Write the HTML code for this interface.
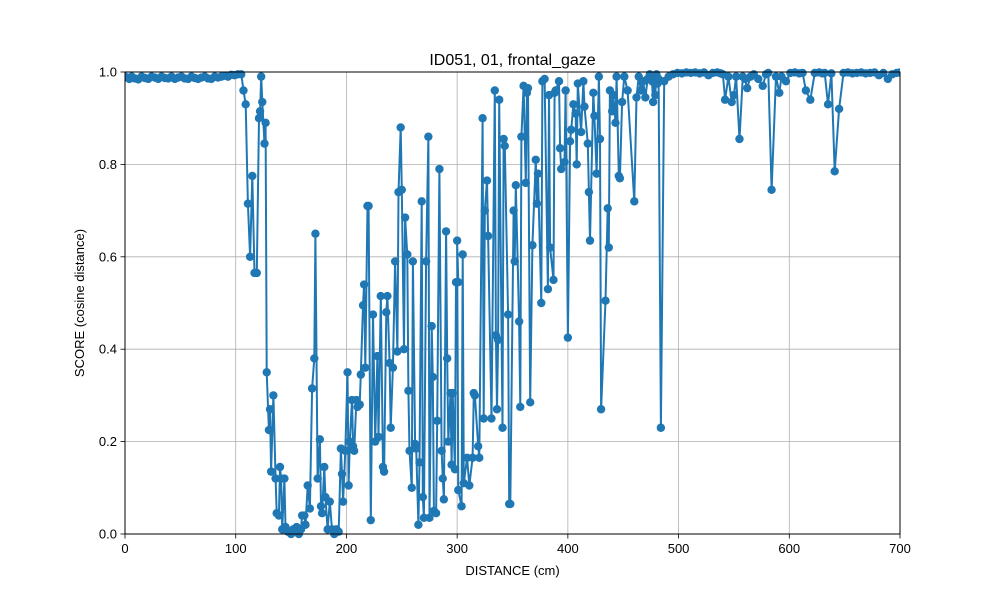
<!DOCTYPE html>
<html><head><meta charset="utf-8"><style>
body{margin:0;background:#fff;}
svg{display:block;font-family:"Liberation Sans","DejaVu Sans",sans-serif;}
</style></head><body>
<svg id="chart" width="1000" height="600">
<rect width="1000" height="600" fill="#fff"/>
</svg>
<script>
const xs = [0,2,4,6,9,12,15,18,21,24,27,30,33,36,39,42,45,48,51,54,57,60,63,66,69,72,75,78,81,84,87,90,93,96,99,102,
105,107,109,111,113,115,117,119,121,122,123,124,126,127,128,130,131,132,134,136,137,139,140,141,142,144,145,147,150,152,155,157,159,160,162,163,165,167,169,171,172,174,176,177,178,180,181,183,185,187,189,191,193,195,196,197,199,201,202,203,205,206,207,209,210,212,213,215,216,217,219,220,222,224,226,228,229,231,233,234,236,237,239,240,242,244,246,247,249,250,252,253,255,256,257,259,260,262,263,265,266,268,269,270,272,274,275,277,278,279,281,282,284,286,287,288,290,291,292,294,295,296,298,299,301,
300,301,304,305,306,309,311,314,315,316,319,320,323,324,325,327,328,331,334,335,336,337,338,341,342,343,346,347,348,351,352,353,356,357,358,360,362,363,364,366,368,371,372,373,376,377,379,382,383,384,387,388,389,392,393,394,397,398,400,402,403,405,407,408,409,412,414,415,418,419,420,423,424,426,428,429,430,434,436,437,438,440,441,443,444,446,447,449,451,454,460,462,464,466,468,470,472,474,476,477,478,479,480,481,482,
484,487,491,495,499,503,507,511,515,519,523,527,531,535,538,540,542,545,548,550,552,555,558,560,562,565,568,572,576,579,581,584,588,591,593,597,601,605,609,612,615,619,623,627,630,632,635,638,641,645,649,653,657,661,665,669,673,677,681,685,689,693,697,700];
const ys = [0.99,0.988,0.985,0.99,0.986,0.984,0.99,0.987,0.985,0.99,0.988,0.985,0.99,0.987,0.986,0.99,0.985,0.988,0.99,0.986,0.985,0.99,0.987,0.985,0.988,0.99,0.986,0.985,0.99,0.988,0.99,0.992,0.99,0.994,0.993,0.995,
0.995,0.96,0.93,0.715,0.60,0.775,0.565,0.565,0.90,0.915,0.99,0.935,0.845,0.89,0.35,0.225,0.27,0.135,0.30,0.12,0.045,0.04,0.145,0.12,0.01,0.12,0.015,0.005,0.0,0.01,0.015,0.0,0.01,0.04,0.04,0.02,0.105,0.055,0.315,0.38,0.65,0.12,0.205,0.06,0.045,0.145,0.08,0.01,0.07,0.01,0.0,0.01,0.005,0.185,0.13,0.07,0.18,0.35,0.105,0.2,0.29,0.19,0.18,0.29,0.275,0.28,0.345,0.495,0.54,0.36,0.71,0.71,0.03,0.475,0.2,0.385,0.21,0.515,0.145,0.135,0.48,0.515,0.37,0.23,0.36,0.59,0.395,0.74,0.88,0.745,0.4,0.685,0.605,0.31,0.18,0.1,0.59,0.195,0.185,0.02,0.155,0.72,0.08,0.035,0.59,0.86,0.035,0.45,0.34,0.05,0.045,0.245,0.79,0.18,0.12,0.075,0.655,0.38,0.2,0.305,0.15,0.305,0.14,0.545,0.545,
0.635,0.095,0.06,0.605,0.11,0.165,0.105,0.165,0.305,0.3,0.19,0.165,0.9,0.25,0.7,0.765,0.645,0.25,0.96,0.43,0.27,0.42,0.94,0.23,0.855,0.84,0.475,0.065,0.065,0.7,0.59,0.755,0.46,0.275,0.86,0.97,0.76,0.955,0.965,0.285,0.625,0.81,0.715,0.78,0.5,0.98,0.985,0.53,0.95,0.62,0.55,0.955,0.96,0.98,0.835,0.79,0.805,0.96,0.425,0.85,0.875,0.93,0.91,0.8,0.975,0.87,0.98,0.925,0.845,0.74,0.635,0.955,0.905,0.78,0.99,0.855,0.27,0.505,0.705,0.62,0.96,0.915,0.95,0.89,0.99,0.775,0.77,0.935,0.99,0.96,0.72,0.945,0.99,0.96,0.98,0.945,0.985,0.995,0.98,0.935,0.99,0.95,0.995,0.975,0.985,0.23,
0.98,0.99,0.995,0.998,0.997,0.999,0.998,0.999,0.997,0.999,0.993,0.998,0.999,0.997,0.995,0.94,0.99,0.935,0.95,0.99,0.855,0.99,0.985,0.965,0.99,0.995,0.985,0.97,0.995,0.998,0.745,0.99,0.955,0.99,0.98,0.998,0.999,0.997,0.998,0.96,0.94,0.998,0.999,0.997,0.998,0.93,0.997,0.785,0.92,0.998,0.999,0.997,0.998,0.999,0.997,0.998,0.999,0.993,0.998,0.985,0.995,0.998,0.999,0.997];
const xTicks = [0,100,200,300,400,500,600,700];
const yTicks = [0.0,0.2,0.4,0.6,0.8,1.0];
const yTickLabels = ["0.0","0.2","0.4","0.6","0.8","1.0"];

const L=125,R=900,T=72,B=534;
const sx=v=>L+(v-0)/(700-0)*(R-L);
const sy=v=>B-(v-0)/(1-0)*(B-T);
const NS='http://www.w3.org/2000/svg';
const svg=document.getElementById('chart');
function mk(tag,attrs,parent){const e=document.createElementNS(NS,tag);for(const k in attrs)e.setAttribute(k,attrs[k]);(parent||svg).appendChild(e);return e;}

const grid=mk('g',{});


xTicks.forEach(t=>{const l=mk('line',{x1:sx(t),x2:sx(t),y1:T,y2:B,stroke:'#b0b0b0','stroke-width':0.8},grid);

});
yTicks.forEach(t=>{const l=mk('line',{x1:L,x2:R,y1:sy(t),y2:sy(t),stroke:'#b0b0b0','stroke-width':0.8},grid);

});

const clip=mk('clipPath',{id:'pc'});mk('rect',{x:L,y:T-6,width:R-L,height:B-T+12},clip);
const series=mk('g',{'clip-path':'url(#pc)'});


let d='';xs.forEach((x,i)=>{d+=(i?'L':'M')+sx(x).toFixed(1)+','+sy(ys[i]).toFixed(1);});
const line=mk('path',{d:d,fill:'none',stroke:'#1f77b4','stroke-width':2,'stroke-linejoin':'round'},series);


xs.forEach((x,i)=>{const c=mk('circle',{cx:sx(x),cy:sy(ys[i]),r:4.2,fill:'#1f77b4'},series);

});

const frame=mk('rect',{x:L,y:T,width:R-L,height:B-T,fill:'none',stroke:'#000','stroke-width':1});



const xa=mk('g',{});


xTicks.forEach(t=>{mk('line',{x1:sx(t),x2:sx(t),y1:B,y2:B+4.5,stroke:'#000','stroke-width':0.8},xa);
const tx=mk('text',{x:sx(t),y:B+19,'text-anchor':'middle','font-size':13,fill:'#000'},xa);tx.textContent=t;

});
const ya=mk('g',{});


yTicks.forEach((t,i)=>{mk('line',{x1:L-4.5,x2:L,y1:sy(t),y2:sy(t),stroke:'#000','stroke-width':0.8},ya);
const tx=mk('text',{x:L-8,y:sy(t)+4.5,'text-anchor':'end','font-size':13,fill:'#000'},ya);tx.textContent=yTickLabels[i];

});

const xt=mk('text',{x:(L+R)/2,y:575,'text-anchor':'middle','font-size':13});xt.textContent='DISTANCE (cm)';


const yt=mk('text',{x:0,y:0,'text-anchor':'middle','font-size':13,transform:'translate(84,303) rotate(-90)'});yt.textContent='SCORE (cosine distance)';


const tt=mk('text',{x:(L+R)/2,y:65,'text-anchor':'middle','font-size':16});tt.textContent='ID051, 01, frontal_gaze';


</script>
</body></html>
